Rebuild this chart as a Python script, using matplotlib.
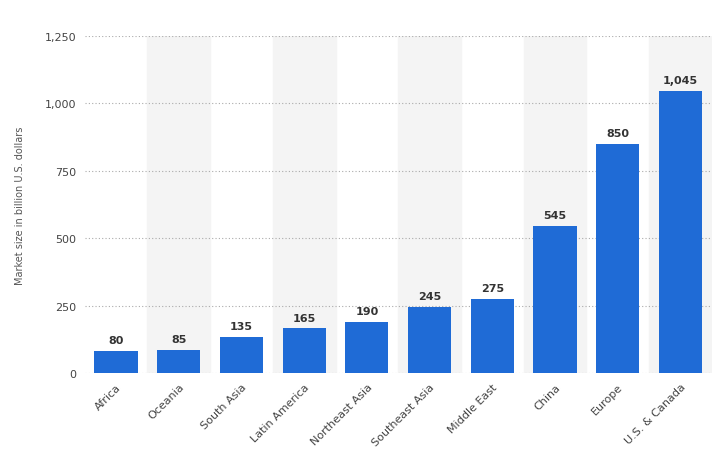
import matplotlib.pyplot as plt
import numpy as np

regions = ["Africa", "Oceania", "South Asia", "Latin America", "Northeast Asia",
           "Southeast Asia", "Middle East", "China", "Europe", "U.S. & Canada"]
market_size = [80, 85, 135, 165, 190, 245, 275, 545, 850, 1045]
y_ticks = [0, 250, 500, 750, 1000, 1250]

fig = plt.figure(figsize=(7.24, 4.56), dpi=100)
ax = fig.add_axes([0.117, 0.18, 0.866, 0.739])

x = np.arange(len(regions))
# alternating background bands
for i in x:
    if i % 2 == 1:
        ax.axvspan(i - 0.5, i + 0.5, color="#f4f4f4", zorder=0)

bars = ax.bar(x, market_size, width=0.69, color="#1f6bd6", zorder=3)
for xi, v in zip(x, market_size):
    ax.text(xi, v + 22, f"{v:,}", ha="center", va="bottom", fontsize=8,
            fontweight="bold", color="#333333", zorder=4)

ax.set_xlim(-0.5, len(regions) - 0.5)
ax.set_ylim(0, 1250)
ax.set_yticks(y_ticks)
ax.set_yticklabels([f"{t:,}" for t in y_ticks], fontsize=8, color="#444444")
ax.yaxis.grid(True, linestyle=(0, (1, 2)), color="#aaaaaa", linewidth=0.8, zorder=1)
ax.set_xticks(x)
ax.set_xticklabels(regions, rotation=45, ha="right", rotation_mode="anchor",
                   fontsize=8, color="#444444")
ax.tick_params(axis="both", length=0, pad=6)
for s in ax.spines.values():
    s.set_visible(False)
ax.set_ylabel("Market size in billion U.S. dollars", fontsize=7, color="#555555", labelpad=14)

fig.savefig("out.png", dpi=100)
